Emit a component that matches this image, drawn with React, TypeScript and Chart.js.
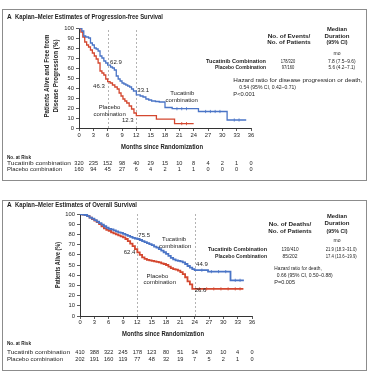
import React, { useEffect, useRef } from "react";
import { Chart, registerables } from "chart.js";

Chart.register(...registerables);

// ---------------- data ----------------
const monthTicks = [0, 3, 6, 9, 12, 15, 18, 21, 24, 27, 30, 33, 36];

// Progression-free survival (%)
const pfsTucMonths = [0, 0.6, 1.0, 1.4, 2.0, 2.4, 2.8, 3.2, 3.6, 4.0, 4.4, 4.8, 5.2, 5.6, 6.0, 6.6, 7.0, 7.4, 7.8, 8.2, 8.6, 9.0, 9.4, 9.8, 10.2, 10.6, 11.0, 11.4, 12.0, 12.8, 13.4, 14.0, 14.6, 15.2, 16.0, 16.8, 18.0, 19.5, 25.0, 31.0, 35.0];
const pfsTucValues = [100, 97, 92, 91, 90, 85, 83, 80, 79, 77, 72, 70, 67, 65, 62.9, 61, 60, 58, 52, 49, 47, 45, 44, 43, 42, 41, 39, 37, 33.1, 32, 31, 29, 28, 27, 26.5, 26, 20.5, 19.3, 16.5, 8, 8];
const pfsPlaMonths = [0, 0.4, 0.8, 1.2, 1.6, 2.0, 2.4, 2.8, 3.2, 3.6, 4.0, 4.4, 4.8, 5.2, 5.6, 6.0, 6.5, 7.0, 7.5, 8.0, 8.4, 8.8, 9.2, 9.6, 10.0, 10.5, 11.0, 11.5, 12.0, 16.2, 20.0, 24.0];
const pfsPlaValues = [100, 96, 91, 86, 83, 81, 78, 75, 72, 69, 65, 57, 55, 53, 49, 46.3, 45, 43, 41, 39, 35, 32, 29, 27, 25, 22, 19, 15, 12.3, 8.8, 4.4, 4.4];
const pfsTucCensorMonths = [20.5, 21.5, 22.5, 26.5, 27.5, 28.5, 29.5, 32.5, 33.5];
const pfsTucCensorValues = [19.3, 19.3, 19.3, 16.5, 16.5, 16.5, 16.5, 8, 8];
const pfsPlaCensorMonths = [21.5, 22.5];
const pfsPlaCensorValues = [4.4, 4.4];
const pfsRiskTuc = [320, 235, 152, 98, 40, 29, 15, 10, 8, 4, 2, 1, 0];
const pfsRiskPla = [160, 94, 45, 27, 6, 4, 2, 1, 1, 0, 0, 0, 0];

// Overall survival (%)
const osTucMonths = [0, 0.5, 1, 1.5, 2, 2.5, 3, 3.5, 4, 4.5, 5, 5.5, 6, 6.5, 7, 7.5, 8, 8.5, 9, 9.5, 10, 10.5, 11, 11.5, 12, 12.5, 13, 13.5, 14, 14.5, 15, 15.5, 16, 16.5, 17, 17.5, 18, 18.5, 19, 19.5, 20, 20.5, 21, 21.5, 22, 22.5, 23, 23.5, 24, 26.8, 31.5, 34.3];
const osTucValues = [100, 99.5, 99, 98, 96.5, 95.5, 94, 92.5, 91, 89.5, 88, 86.5, 85.5, 85, 84, 83, 82, 81.5, 80.5, 79.5, 78.5, 77.5, 76.5, 76, 75.5, 74.5, 73.5, 72.5, 71.5, 70.5, 69.5, 68, 67, 65.5, 64, 62.5, 61, 59, 57, 55.5, 54.5, 54, 53.5, 52.5, 51, 49, 47.5, 46, 44.9, 43.5, 35, 35];
const osPlaMonths = [0, 0.5, 1, 1.5, 2, 2.5, 3, 3.5, 4, 4.5, 5, 5.5, 6, 6.5, 7, 7.5, 8, 8.5, 9, 9.5, 10, 10.5, 11, 11.5, 12, 12.5, 13, 13.5, 14, 14.5, 15, 15.5, 16, 16.5, 17, 17.5, 18, 18.5, 19, 19.5, 20, 20.5, 21, 21.5, 22, 22.5, 23, 23.5, 34.2];
const osPlaValues = [100, 99.5, 99, 98, 96.5, 95, 93.5, 92, 90, 88, 86, 84.5, 83.5, 82, 81, 80, 79, 78, 77, 75.5, 73.5, 71, 68.5, 65.5, 62.4, 60, 57.5, 56, 55, 54.5, 54, 53.5, 53, 52.5, 51.5, 51, 50, 48.5, 47, 46, 45.5, 44.5, 43, 41, 38, 34, 31, 26.6, 26.6];
const osTucCensorMonths = [25.5, 27.5, 29, 30.5, 32.5, 33.5];
const osTucCensorValues = [44.9, 43.5, 43.5, 43.5, 35, 35];
const osPlaCensorMonths = [25, 26.5, 28, 29.5, 31, 32.5, 33.5];
const osPlaCensorValues = [26.6, 26.6, 26.6, 26.6, 26.6, 26.6, 26.6];
const osRiskTuc = [410, 388, 322, 245, 178, 123, 80, 51, 34, 20, 10, 4, 0];
const osRiskPla = [202, 191, 160, 119, 77, 48, 32, 19, 7, 5, 2, 1, 0];

// ---------------- styling ----------------
const BLUE = "#4a74c6";
const RED = "#d4472f";
const INK = "#1e1e1e";
const FONT = "'Liberation Sans', 'DejaVu Sans', Arial, sans-serif";
const W = 374;
const YW = 30;
const XH = 15;

type TextItem = {
  t: string; x: number; y: number; size: number; bold?: boolean;
  align?: "left" | "center" | "right"; w?: number; rot?: boolean;
};
type Ann = { t: string; m: number; v: number; align: "left" | "center" | "right"; size?: number };

function drawText(ctx: CanvasRenderingContext2D, it: TextItem) {
  ctx.save();
  ctx.font = `${it.bold ? "bold " : ""}${it.size}px ${FONT}`;
  ctx.fillStyle = INK;
  ctx.textBaseline = "middle";
  ctx.textAlign = "left";
  const nat = ctx.measureText(it.t).width;
  const sx = it.w ? it.w / nat : 1;
  const width = nat * sx;
  const align = it.align || "left";
  ctx.translate(it.x, it.y);
  if (it.rot) ctx.rotate(-Math.PI / 2);
  let left = 0;
  if (align === "center") left = -width / 2;
  else if (align === "right") left = -width;
  ctx.translate(left, 0);
  ctx.scale(sx, 1);
  ctx.fillText(it.t, 0, 0);
  ctx.restore();
}

type Spec = {
  key: string; top: number; height: number;
  area: { left: number; right: number; top: number; bottom: number };
  border: { x: number; y: number; w: number; h: number };
  lineWidth: number; tickPad: number;
  tucM: number[]; tucV: number[]; plaM: number[]; plaV: number[];
  tcM: number[]; tcV: number[]; pcM: number[]; pcV: number[];
  landmarks: number[];
  texts: TextItem[];
  anns: Ann[];
  riskTuc: number[]; riskPla: number[]; riskY: number[];
};

function pts(ms: number[], vs: number[]) {
  return ms.map((m, i) => ({ x: m, y: vs[i] }));
}

function makePlugin(spec: Spec) {
  return {
    id: "kmpanel_" + spec.key,
    beforeDatasetsDraw(chart: any) {
      const ctx = chart.ctx as CanvasRenderingContext2D;
      const xs = chart.scales.x;
      const ys = chart.scales.y;
      ctx.save();
      ctx.strokeStyle = "#a0a0a0";
      ctx.lineWidth = 0.8;
      ctx.setLineDash([2, 2]);
      spec.landmarks.forEach((m) => {
        const x = Math.round(xs.getPixelForValue(m)) + 0.5;
        ctx.beginPath();
        ctx.moveTo(x, ys.getPixelForValue(0));
        ctx.lineTo(x, ys.getPixelForValue(100));
        ctx.stroke();
      });
      ctx.restore();
    },
    afterDraw(chart: any) {
      const ctx = chart.ctx as CanvasRenderingContext2D;
      const xs = chart.scales.x;
      const ys = chart.scales.y;
      // panel frame
      ctx.save();
      ctx.strokeStyle = "#8c8c8c";
      ctx.lineWidth = 1;
      ctx.strokeRect(spec.border.x + 0.5, spec.border.y + 0.5, spec.border.w, spec.border.h);
      ctx.restore();
      spec.texts.forEach((t) => drawText(ctx, t));
      spec.anns.forEach((a) =>
        drawText(ctx, { t: a.t, x: xs.getPixelForValue(a.m), y: ys.getPixelForValue(a.v), size: a.size || 6, align: a.align })
      );
      monthTicks.forEach((m, i) => {
        const x = xs.getPixelForValue(m);
        drawText(ctx, { t: String(spec.riskTuc[i]), x, y: spec.riskY[0], size: 5.6, align: "center" });
        drawText(ctx, { t: String(spec.riskPla[i]), x, y: spec.riskY[1], size: 5.6, align: "center" });
      });
    },
  };
}

function buildConfig(spec: Spec): any {
  const tickFont = { family: FONT, size: 5.8 };
  return {
    type: "line",
    data: {
      datasets: [
        { data: pts(spec.tucM, spec.tucV), borderColor: BLUE, borderWidth: spec.lineWidth, stepped: "before", pointRadius: 0, fill: false },
        { data: pts(spec.plaM, spec.plaV), borderColor: RED, borderWidth: spec.lineWidth, stepped: "before", pointRadius: 0, fill: false },
        { data: pts(spec.tcM, spec.tcV), showLine: false, pointStyle: "line", rotation: 90, pointRadius: 1.6, borderColor: BLUE, borderWidth: 0.8 },
        { data: pts(spec.pcM, spec.pcV), showLine: false, pointStyle: "line", rotation: 90, pointRadius: 1.6, borderColor: RED, borderWidth: 0.8 },
      ],
    },
    options: {
      responsive: false,
      animation: false,
      devicePixelRatio: 1,
      events: [],
      layout: {
        padding: {
          left: spec.area.left - YW,
          right: W - spec.area.right,
          top: spec.area.top,
          bottom: spec.height - spec.area.bottom - XH,
        },
      },
      plugins: { legend: { display: false }, tooltip: { enabled: false }, title: { display: false } },
      scales: {
        x: {
          type: "linear",
          min: 0,
          max: 36,
          afterBuildTicks: (s: any) => {
            s.ticks = monthTicks.map((v) => ({ value: v }));
          },
          afterFit: (s: any) => {
            s.height = XH;
          },
          ticks: { font: tickFont, color: INK, padding: spec.tickPad, maxRotation: 0, autoSkip: false },
          grid: { drawOnChartArea: false, drawTicks: true, tickLength: 3, color: "#333", lineWidth: 0.8 },
          border: { display: true, color: "#333", width: 1 },
        },
        y: {
          min: 0,
          max: 100,
          afterFit: (s: any) => {
            s.width = YW;
          },
          ticks: { stepSize: 10, font: tickFont, color: INK, padding: 2 },
          grid: { drawOnChartArea: false, drawTicks: true, tickLength: 3, color: "#333", lineWidth: 0.8 },
          border: { display: true, color: "#333", width: 1 },
        },
      },
    },
    plugins: [makePlugin(spec)],
  };
}

// ---------------- panels ----------------
const pfsSpec: Spec = {
  key: "pfs",
  top: 0,
  height: 190,
  area: { left: 79, right: 251, top: 28, bottom: 128 },
  border: { x: 2, y: 9, w: 364, h: 171 },
  lineWidth: 1.3,
  tickPad: 1,
  tucM: pfsTucMonths, tucV: pfsTucValues, plaM: pfsPlaMonths, plaV: pfsPlaValues,
  tcM: pfsTucCensorMonths, tcV: pfsTucCensorValues, pcM: pfsPlaCensorMonths, pcV: pfsPlaCensorValues,
  landmarks: [6, 12],
  texts: [
    { t: "A", x: 7, y: 17, size: 6.5, bold: true },
    { t: "Kaplan–Meier Estimates of Progression-free Survival", x: 15, y: 17, size: 6.3, bold: true, w: 148 },
    { t: "Patients Alive and Free from", x: 47, y: 76, size: 6.3, bold: true, rot: true, align: "center", w: 83 },
    { t: "Disease Progression (%)", x: 56.5, y: 76, size: 6.3, bold: true, rot: true, align: "center", w: 73 },
    { t: "Months since Randomization", x: 162, y: 147, size: 6.3, bold: true, align: "center", w: 82 },
    { t: "Median", x: 337, y: 29.3, size: 6, bold: true, align: "center", w: 20 },
    { t: "Duration", x: 337, y: 36, size: 6, bold: true, align: "center", w: 25 },
    { t: "(95% CI)", x: 337, y: 42.7, size: 6, bold: true, align: "center", w: 21 },
    { t: "No. of Events/", x: 289, y: 36.7, size: 6, bold: true, align: "center", w: 42.7 },
    { t: "No. of Patients", x: 289, y: 42.7, size: 6, bold: true, align: "center", w: 43.3 },
    { t: "mo", x: 337, y: 54, size: 5, align: "center" },
    { t: "Tucatinib Combination", x: 266, y: 61.7, size: 6, bold: true, align: "right", w: 60 },
    { t: "Placebo Combination", x: 266, y: 67.7, size: 6, bold: true, align: "right", w: 51 },
    { t: "178/320", x: 288, y: 61.7, size: 5.8, align: "center", w: 14.5 },
    { t: "97/160", x: 288, y: 67.7, size: 5.8, align: "center", w: 12.5 },
    { t: "7.8 (7.5–9.6)", x: 341.8, y: 61.7, size: 5.8, align: "center", w: 27.7 },
    { t: "5.6 (4.2–7.1)", x: 341.8, y: 67.7, size: 5.8, align: "center", w: 26.7 },
    { t: "Hazard ratio for disease progression or death,", x: 233.3, y: 80, size: 5.8, w: 129 },
    { t: "0.54 (95% CI, 0.42–0.71)", x: 239.3, y: 87.3, size: 5.8, w: 56.7 },
    { t: "P<0.001", x: 233.3, y: 94.3, size: 5.8, w: 21.7 },
    { t: "No. at Risk", x: 7, y: 157.7, size: 6, bold: true, w: 24 },
    { t: "Tucatinib combination", x: 7, y: 163.3, size: 5.8, w: 64 },
    { t: "Placebo combination", x: 7, y: 169.3, size: 5.8, w: 55 },
  ],
  anns: [
    { t: "62.9", m: 6.5, v: 65.3, align: "left" },
    { t: "46.3", m: 5.4, v: 42, align: "right" },
    { t: "33.1", m: 12.2, v: 37.3, align: "left" },
    { t: "Placebo", m: 6.4, v: 20.7, align: "center" },
    { t: "combination", m: 6.4, v: 14, align: "center" },
    { t: "12.3", m: 10.2, v: 7.3, align: "center" },
    { t: "Tucatinib", m: 21.6, v: 34.7, align: "center" },
    { t: "combination", m: 21.5, v: 27.3, align: "center" },
  ],
  riskTuc: pfsRiskTuc,
  riskPla: pfsRiskPla,
  riskY: [163.3, 169.3],
};

const osSpec: Spec = {
  key: "os",
  top: 190,
  height: 187,
  area: { left: 80, right: 252, top: 24, bottom: 126 },
  border: { x: 2, y: 10, w: 364, h: 170 },
  lineWidth: 1.8,
  tickPad: 0,
  tucM: osTucMonths, tucV: osTucValues, plaM: osPlaMonths, plaV: osPlaValues,
  tcM: osTucCensorMonths, tcV: osTucCensorValues, pcM: osPlaCensorMonths, pcV: osPlaCensorValues,
  landmarks: [12, 24],
  texts: [
    { t: "A", x: 7, y: 15, size: 6.5, bold: true },
    { t: "Kaplan–Meier Estimates of Overall Survival", x: 15, y: 15, size: 6.3, bold: true, w: 122 },
    { t: "Patients Alive (%)", x: 58, y: 75, size: 6.3, bold: true, rot: true, align: "center", w: 46 },
    { t: "Months since Randomization", x: 163, y: 144, size: 6.3, bold: true, align: "center", w: 82 },
    { t: "Median", x: 337, y: 26, size: 6, bold: true, align: "center", w: 20 },
    { t: "Duration", x: 337, y: 33.3, size: 6, bold: true, align: "center", w: 25 },
    { t: "(95% CI)", x: 337, y: 41.7, size: 6, bold: true, align: "center", w: 21 },
    { t: "No. of Deaths/", x: 290, y: 34.3, size: 6, bold: true, align: "center", w: 42.7 },
    { t: "No. of Patients", x: 290, y: 41.7, size: 6, bold: true, align: "center", w: 43.3 },
    { t: "mo", x: 337, y: 50.7, size: 5, align: "center" },
    { t: "Tucatinib Combination", x: 267, y: 59.3, size: 6, bold: true, align: "right", w: 59 },
    { t: "Placebo Combination", x: 267, y: 66, size: 6, bold: true, align: "right", w: 52 },
    { t: "130/410", x: 290, y: 59.3, size: 5.8, align: "center", w: 17 },
    { t: "85/202", x: 290, y: 66, size: 5.8, align: "center", w: 15 },
    { t: "21.9 (18.3–31.0)", x: 341.2, y: 59.3, size: 5.8, align: "center", w: 31 },
    { t: "17.4 (13.6–19.9)", x: 341.2, y: 66, size: 5.8, align: "center", w: 31 },
    { t: "Hazard ratio for death,", x: 274.3, y: 78.3, size: 5.8, w: 47.4 },
    { t: "0.66 (95% CI, 0.50–0.88)", x: 276.7, y: 85.7, size: 5.8, w: 56 },
    { t: "P=0.005", x: 274.3, y: 92.7, size: 5.8, w: 20.7 },
    { t: "No. at Risk", x: 7, y: 153.3, size: 6, bold: true, w: 24 },
    { t: "Tucatinib combination", x: 7, y: 162.7, size: 5.8, w: 63 },
    { t: "Placebo combination", x: 7, y: 169.3, size: 5.8, w: 56 },
  ],
  anns: [
    { t: "75.5", m: 12.2, v: 79.4, align: "left" },
    { t: "62.4", m: 11.6, v: 62, align: "right" },
    { t: "Tucatinib", m: 19.7, v: 75.2, align: "center" },
    { t: "combination", m: 19.9, v: 68.6, align: "center" },
    { t: "Placebo", m: 16.2, v: 38.5, align: "center" },
    { t: "combination", m: 16.7, v: 32.6, align: "center" },
    { t: "44.9", m: 24.3, v: 50.7, align: "left" },
    { t: "26.6", m: 24.0, v: 24.8, align: "left" },
  ],
  riskTuc: osRiskTuc,
  riskPla: osRiskPla,
  riskY: [162.7, 169.3],
};

function KMPanel({ spec }: { spec: Spec }) {
  const ref = useRef<HTMLCanvasElement>(null);
  useEffect(() => {
    if (!ref.current) return;
    const chart = new Chart(ref.current, buildConfig(spec));
    return () => chart.destroy();
  }, [spec]);
  return (
    <canvas
      ref={ref}
      width={W}
      height={spec.height}
      style={{ position: "absolute", left: 0, top: spec.top, width: W, height: spec.height, display: "block" }}
    />
  );
}

export default function App() {
  return (
    <div style={{ position: "fixed", left: 0, top: 0, width: W, height: 377, background: "#fff", overflow: "hidden" }}>
      <KMPanel spec={pfsSpec} />
      <KMPanel spec={osSpec} />
    </div>
  );
}
